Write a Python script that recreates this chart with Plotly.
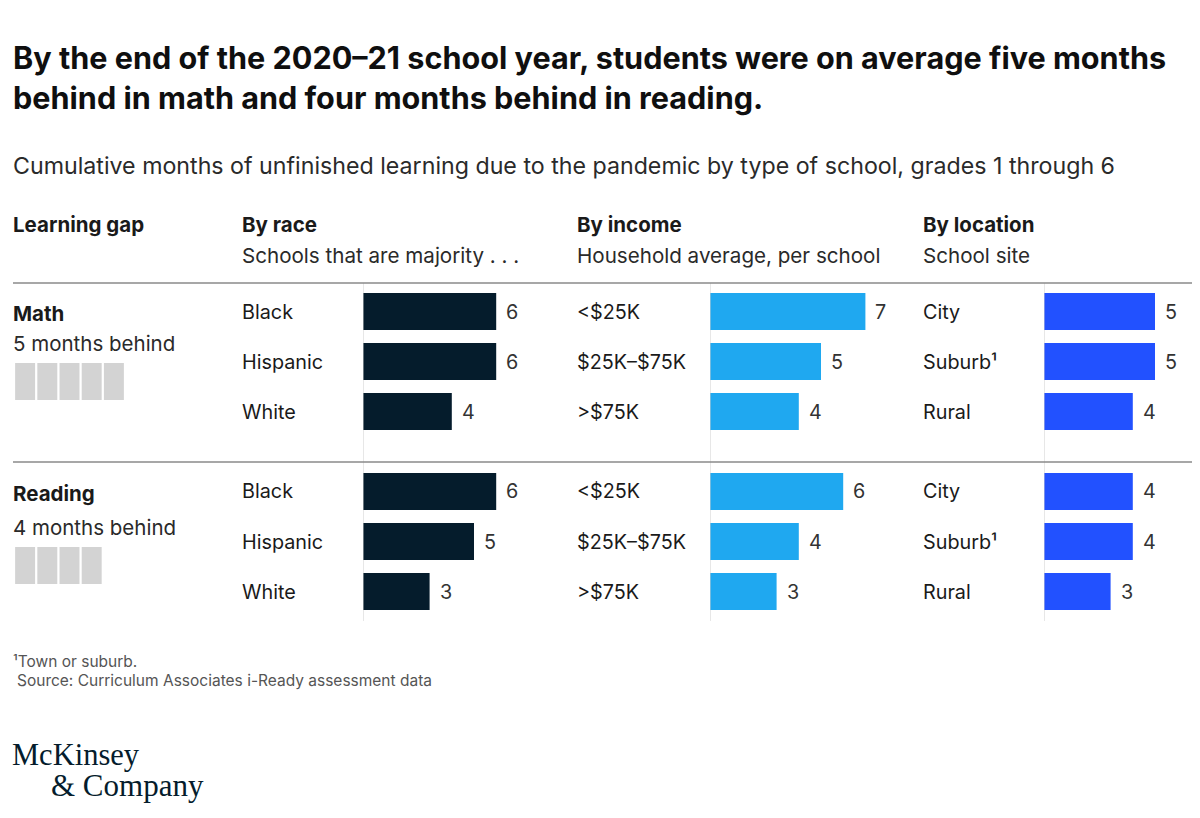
import plotly.graph_objects as go

# page has an 8px body margin, so the figure is drawn 8px in from the edges
OFF = 8
W, H = 1200 - 2 * OFF, 818 - 2 * OFF

# data
groups = ["Math", "Reading"]
group_notes = ["5 months behind", "4 months behind"]
group_avg = [5, 4]

race_labels = ["Black", "Hispanic", "White"]
income_labels = ["<$25K", "$25K–$75K", ">$75K"]
location_labels = ["City", "Suburb¹", "Rural"]

race_math = [6, 6, 4]
race_reading = [6, 5, 3]
income_math = [7, 5, 4]
income_reading = [6, 4, 3]
location_math = [5, 5, 4]
location_reading = [4, 4, 3]

title_lines = ["By the end of the 2020–21 school year, students were on average five months",
               "behind in math and four months behind in reading."]
subtitle = "Cumulative months of unfinished learning due to the pandemic by type of school, grades 1 through 6"


def px(x):
    return (x - OFF) / W


def py(y):
    return 1 - (y - OFF) / H


def esc(s):
    return s.replace("<", "&lt;").replace(">", "&gt;")


FONT = "Inter"
PX_PER_MONTH = 22.2

# header, header sub, labels, values per group, colour, label x, bar x, x range
columns = [
    ("By race", "Schools that are majority . . .", race_labels,
     [race_math, race_reading], "#051C2C", 242, 363, 7.5),
    ("By income", "Household average, per school", income_labels,
     [income_math, income_reading], "#1FA8F0", 577, 710, 7.5),
    ("By location", "School site", location_labels,
     [location_math, location_reading], "#2251FF", 923, 1044, 6.0),
]
group_rows = [(286.5, 436.5), (466.5, 616.5)]

fig = go.Figure()
annotations = []
shapes = []
layout = {}


def txt(x, y, text, size, color="#1a1a1a", bold=False, family=FONT, xref="paper", yref="paper", xshift=0):
    annotations.append(dict(
        x=x, y=y, xref=xref, yref=yref, text=("<b>%s</b>" % text) if bold else text,
        showarrow=False, xanchor="left", yanchor="middle", xshift=xshift,
        font=dict(family=family, size=size, color=color)))


k = 0
for gi, g in enumerate(groups):
    top, bottom = group_rows[gi]
    for ci, (head, sub, labels, vals, color, lx, bx, xmax) in enumerate(columns):
        k += 1
        xa = "x" if k == 1 else "x%d" % k
        ya = "y" if k == 1 else "y%d" % k
        values = vals[gi]
        fig.add_trace(go.Bar(
            x=values, y=labels, orientation="h", width=0.74,
            marker=dict(color=color, line=dict(width=0)),
            xaxis=xa, yaxis=ya, hoverinfo="skip", showlegend=False))
        layout["xaxis" if k == 1 else "xaxis%d" % k] = dict(
            domain=[px(bx), px(bx + xmax * PX_PER_MONTH)], range=[0, xmax],
            visible=False, anchor=ya, fixedrange=True)
        layout["yaxis" if k == 1 else "yaxis%d" % k] = dict(
            domain=[py(bottom), py(top)], type="category",
            categoryorder="array", categoryarray=labels, autorange="reversed",
            visible=False, anchor=xa, fixedrange=True)
        for lab, v in zip(labels, values):
            txt(px(lx - 2), lab, esc(lab), 19.8, yref=ya)
            txt(v, lab, str(v), 19.8, color="#333333", xref=xa, yref=ya, xshift=8)
        if gi == 0:
            shapes.append(dict(type="line", xref=xa, yref="paper", x0=0, x1=0,
                               y0=py(283), y1=py(621),
                               line=dict(color="#cfcfcf", width=1)))

# grey squares showing the average gap
sq_rows = [(363, 400), (547, 584)]
for gi, n in enumerate(group_avg):
    k += 1
    xa, ya = "x%d" % k, "y%d" % k
    fig.add_trace(go.Bar(
        x=list(range(1, n + 1)), y=[1] * n, width=0.9,
        marker=dict(color="#d3d3d3", line=dict(width=0)),
        xaxis=xa, yaxis=ya, hoverinfo="skip", showlegend=False))
    layout["xaxis%d" % k] = dict(domain=[px(14), px(14 + 5 * PX_PER_MONTH)],
                                 range=[0.5, 5.5], visible=False, anchor=ya, fixedrange=True)
    layout["yaxis%d" % k] = dict(domain=[py(sq_rows[gi][1]), py(sq_rows[gi][0])],
                                 range=[0, 1], visible=False, anchor=xa, fixedrange=True)

# separators
for yy in (283, 462):
    shapes.append(dict(type="line", xref="paper", yref="paper", x0=px(13), x1=px(1192),
                       y0=py(yy), y1=py(yy), line=dict(color="#8a8a8a", width=1.5)))

# texts
txt(px(11), py(57), title_lines[0], 30.6, color="#0f0f0f", bold=True)
txt(px(11), py(97), title_lines[1], 30.6, color="#0f0f0f", bold=True)
txt(px(11), py(166), subtitle, 23.2, color="#2a2a2a")

txt(px(11), py(224), "Learning gap", 20.5, bold=True)
for head, sub, labels, vals, color, lx, bx, xmax in columns:
    txt(px(lx - 2), py(224), head, 20.5, bold=True)
    txt(px(lx - 2), py(255), sub, 20.6, color="#2a2a2a")

txt(px(11), py(313), groups[0], 20.5, bold=True)
txt(px(11), py(343), group_notes[0], 20.5, color="#2a2a2a")
txt(px(11), py(493), groups[1], 20.5, bold=True)
txt(px(11), py(527), group_notes[1], 20.5, color="#2a2a2a")

txt(px(11), py(661), "¹Town or suburb.", 15.5, color="#555555")
txt(px(15), py(680), "Source: Curriculum Associates i-Ready assessment data", 15.5, color="#555555")

txt(px(10), py(755), "McKinsey", 30.5, color="#051C2C", family="Liberation Serif")
txt(px(49), py(785), "&amp; Company", 31, color="#051C2C", family="Liberation Serif")

fig.update_layout(
    width=W, height=H, margin=dict(l=0, r=0, t=0, b=0),
    paper_bgcolor="white", plot_bgcolor="white",
    barmode="overlay", annotations=annotations, shapes=shapes, **layout)

fig.write_html("out.html")
